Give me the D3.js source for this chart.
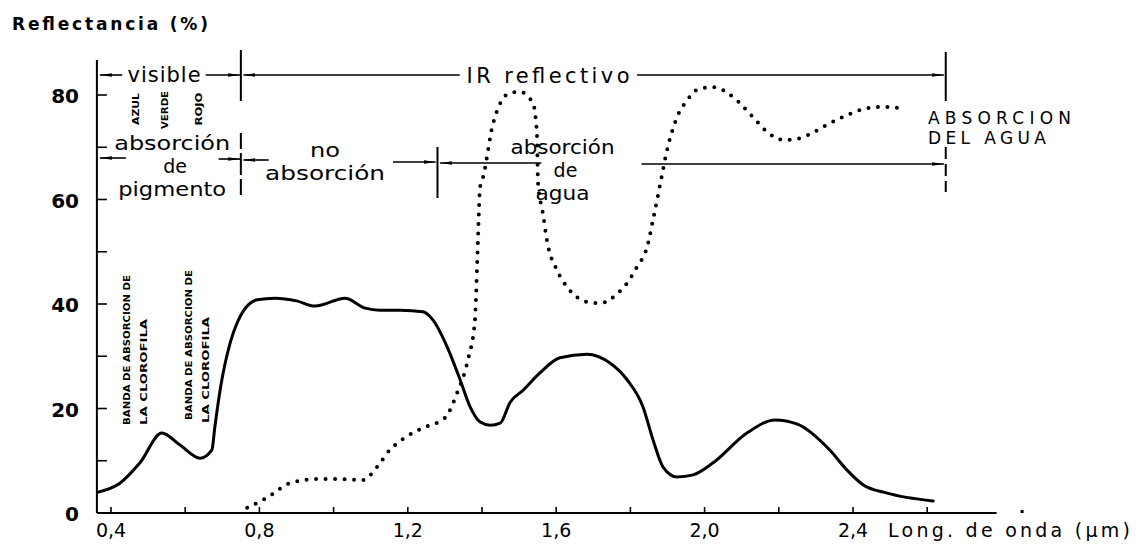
<!DOCTYPE html>
<html>
<head>
<meta charset="utf-8">
<script src="https://cdn.jsdelivr.net/npm/d3@7"></script>
<style>
  html, body { margin: 0; padding: 0; background: #fff; }
  svg { display: block; }
  text { font-family: "DejaVu Sans", "Liberation Sans", sans-serif; fill: #000; }
</style>
</head>
<body>
<svg id="chart" width="1140" height="549"></svg>
<script>
// Vegetation reflectance curve (solid): wavelength in µm, reflectance in %
const vegWavelength = [0.365, 0.424, 0.478, 0.537, 0.586, 0.640, 0.672, 0.680, 0.694, 0.721,
  0.740, 0.794, 0.842, 0.900, 0.950, 1.031, 1.085, 1.125, 1.180, 1.241, 1.268, 1.306, 1.341,
  1.368, 1.395, 1.422, 1.449, 1.476, 1.511, 1.556, 1.610, 1.683, 1.745, 1.791, 1.834, 1.861,
  1.888, 1.926, 1.969, 2.023, 2.114, 2.190, 2.250, 2.338, 2.384, 2.427, 2.492, 2.616];
const vegReflectance = [4.0, 5.7, 9.6, 15.3, 13.0, 10.5, 12.1, 16.5, 23.5, 32.5,
  36.4, 40.8, 41.1, 40.6, 39.6, 41.1, 39.2, 38.8, 38.8, 38.5, 36.9, 31.8, 25.5,
  20.3, 17.4, 16.8, 17.2, 21.2, 23.5, 26.8, 29.7, 30.4, 28.7, 25.5, 20.3, 14.0,
  8.8, 6.9, 7.3, 9.6, 15.3, 17.8, 17.0, 12.0, 8.2, 5.4, 3.8, 2.3];

// Dotted curve
const waterWavelength = [0.767, 0.820, 0.882, 0.955, 1.017, 1.079, 1.117, 1.152, 1.192, 1.241,
  1.300, 1.333, 1.362, 1.381, 1.387, 1.395, 1.403, 1.430, 1.475, 1.502, 1.537, 1.548, 1.551,
  1.564, 1.575, 1.602, 1.629, 1.656, 1.683, 1.710, 1.737, 1.753, 1.791, 1.818, 1.845, 1.861,
  1.880, 1.899, 1.926, 1.953, 1.980, 2.023, 2.077, 2.130, 2.176, 2.211, 2.249, 2.284, 2.330,
  2.373, 2.419, 2.465, 2.500, 2.535];
const waterReflectance = [1.0, 2.9, 5.7, 6.5, 6.5, 6.3, 8.8, 12.1, 14.4, 16.3,
  18.2, 23.0, 29.3, 36.9, 47.8, 62.4, 64.3, 74.6, 80.4, 80.6, 78.5, 72.7, 63.2,
  57.4, 52.2, 46.5, 43.3, 41.3, 40.4, 40.2, 40.4, 41.3, 44.0, 47.1, 50.9, 56.1,
  62.8, 69.5, 75.8, 79.0, 81.0, 81.5, 79.6, 75.8, 72.5, 71.4, 71.6, 72.5, 74.3,
  75.8, 77.1, 77.7, 77.7, 77.3];

// Axis ticks and labels
const yTickValues = [0, 20, 40, 60, 80];
const yMinorTickValues = [10, 30, 50, 70];
const xTickValues = [0.4, 0.6, 0.8, 1.0, 1.2, 1.4, 1.6, 1.8, 2.0, 2.2, 2.4, 2.6];
const xLabelValues = [0.4, 0.8, 1.2, 1.6, 2.0, 2.4];
const xTickLabels = ["0,4", "0,8", "1,2", "1,6", "2,0", "2,4"];

// Spectral region boundaries (µm)
const regionBounds = [0.75, 1.28, 2.65];

const svg = d3.select("#chart");
const x = d3.scaleLinear().domain([0.4, 2.4]).range([111, 853]);
const y = d3.scaleLinear().domain([0, 80]).range([513, 95]);

const axisX0 = x(0.362);   // vertical axis position
const axisXEnd = x(2.787);

// arrowheads
const defs = svg.append("defs");
defs.append("marker").attr("id", "arrowEnd")
  .attr("viewBox", "0 0 12 6").attr("refX", 12).attr("refY", 3)
  .attr("markerWidth", 12).attr("markerHeight", 6).attr("markerUnits", "userSpaceOnUse")
  .attr("orient", "auto")
  .append("path").attr("d", "M0,1.2 L12,3 L0,4.8 Z").attr("fill", "#000");
defs.append("marker").attr("id", "arrowStart")
  .attr("viewBox", "0 0 12 6").attr("refX", 0).attr("refY", 3)
  .attr("markerWidth", 12).attr("markerHeight", 6).attr("markerUnits", "userSpaceOnUse")
  .attr("orient", "auto")
  .append("path").attr("d", "M12,1.2 L0,3 L12,4.8 Z").attr("fill", "#000");

// ---- axes ----
const axes = svg.append("g").attr("stroke", "#000").attr("fill", "none");
axes.append("line").attr("x1", axisX0).attr("x2", axisX0).attr("y1", 60).attr("y2", y(0))
  .attr("stroke-width", 2);
axes.append("line").attr("x1", axisX0).attr("x2", axisXEnd).attr("y1", y(0)).attr("y2", y(0))
  .attr("stroke-width", 2);
axes.append("rect").attr("x", axisXEnd + 24).attr("y", y(0) - 3).attr("width", 3).attr("height", 3)
  .attr("fill", "#000").attr("stroke", "none");

// y ticks (pointing inward)
axes.selectAll(".ytick").data(yTickValues.concat(yMinorTickValues).filter(d => d > 0))
  .join("line")
  .attr("x1", axisX0).attr("x2", axisX0 + 10)
  .attr("y1", d => y(d)).attr("y2", d => y(d))
  .attr("stroke-width", 1.6);

// x ticks (pointing up)
axes.selectAll(".xtick").data(xTickValues).join("line")
  .attr("x1", d => x(d)).attr("x2", d => x(d))
  .attr("y1", y(0)).attr("y2", y(0) - 6)
  .attr("stroke-width", 1.6);

// y tick labels
svg.append("g").selectAll("text").data(yTickValues).join("text")
  .attr("x", 79).attr("y", d => y(d) + 8)
  .attr("text-anchor", "end")
  .attr("font-size", 20).attr("font-weight", "bold")
  .text(d => d);

// x tick labels
svg.append("g").selectAll("text").data(xLabelValues).join("text")
  .attr("x", d => x(d)).attr("y", 537)
  .attr("text-anchor", "middle")
  .attr("font-size", 19)
  .text((d, i) => xTickLabels[i]);

svg.append("text").attr("x", 888).attr("y", 537)
  .attr("font-size", 19).attr("textLength", 242).attr("lengthAdjust", "spacing")
  .text("Long. de onda (µm)");

svg.append("text").attr("x", 12).attr("y", 30)
  .attr("font-size", 17).attr("font-weight", "bold")
  .attr("textLength", 196).attr("lengthAdjust", "spacing")
  .text("Reflectancia (%)");

// ---- curves ----
const line = d3.line()
  .x(d => x(d[0])).y(d => y(d[1]))
  .curve(d3.curveMonotoneX);

svg.append("path")
  .datum(d3.zip(vegWavelength, vegReflectance))
  .attr("d", line)
  .attr("fill", "none").attr("stroke", "#000")
  .attr("stroke-width", 3).attr("stroke-linejoin", "round").attr("stroke-linecap", "round");

svg.append("path")
  .datum(d3.zip(waterWavelength, waterReflectance))
  .attr("d", line)
  .attr("fill", "none").attr("stroke", "#000")
  .attr("stroke-width", 4).attr("stroke-linecap", "round")
  .attr("stroke-dasharray", "0 9.5");

// ---- spectral region brackets ----
const ann = svg.append("g").attr("stroke", "#000").attr("fill", "none");

function arrow(l1, l2, yy, head) {
  const el = ann.append("line")
    .attr("x1", x(l1)).attr("x2", x(l2)).attr("y1", yy).attr("y2", yy)
    .attr("stroke-width", 1.6);
  if (head === "start") el.attr("marker-start", "url(#arrowStart)");
  if (head === "end") el.attr("marker-end", "url(#arrowEnd)");
}
function bar(l, y1, y2, dash) {
  const el = ann.append("line")
    .attr("x1", x(l)).attr("x2", x(l)).attr("y1", y1).attr("y2", y2)
    .attr("stroke-width", 2);
  if (dash) el.attr("stroke-dasharray", dash);
}

// boundaries
bar(regionBounds[0], 50, 101);
bar(regionBounds[0], 133, 196, "16 4 22 4");
bar(regionBounds[1], 147, 198);
bar(regionBounds[2], 52, 101);
bar(regionBounds[2], 147, 192, "12 5");

// top row: visible / IR reflectivo
const row1 = 75;
arrow(0.370, 0.430, row1, "start");
arrow(0.655, 0.748, row1, "end");
arrow(0.757, 1.340, row1, "start");
arrow(1.818, 2.645, row1, "end");

// second row: pigment / no absorption / water absorption
arrow(0.370, 0.440, 158, "start");
arrow(0.690, 0.748, 159, "end");
arrow(0.757, 0.825, 160, "start");
arrow(1.160, 1.275, 162, "end");
arrow(1.287, 1.560, 163, "start");
arrow(1.830, 2.645, 164, "end");

// region labels
const label = (txt, l, yy, size, len, adjust) => {
  const t = svg.append("text").attr("x", x(l)).attr("y", yy)
    .attr("text-anchor", "middle").attr("font-size", size).text(txt);
  if (len) t.attr("textLength", len).attr("lengthAdjust", adjust || "spacing");
  return t;
};
label("visible", 0.543, 82, 21, 73);
label("IR reflectivo", 1.578, 83, 21, 163);

label("absorción", 0.565, 150, 19, 116, "spacingAndGlyphs");
label("de", 0.573, 173, 19);
label("pigmento", 0.565, 196, 19, 108, "spacingAndGlyphs");

label("no", 0.977, 157, 19, 30, "spacingAndGlyphs");
label("absorción", 0.977, 180, 19, 120, "spacingAndGlyphs");

label("absorción", 1.617, 154, 19, 104, "spacingAndGlyphs");
label("de", 1.625, 177, 19);
label("agua", 1.617, 200, 19, 54, "spacingAndGlyphs");

svg.append("text").attr("x", 928).attr("y", 124)
  .attr("font-size", 17).attr("textLength", 143).attr("lengthAdjust", "spacing")
  .text("ABSORCION");
svg.append("text").attr("x", 928).attr("y", 144)
  .attr("font-size", 17).attr("textLength", 118).attr("lengthAdjust", "spacing")
  .text("DEL AGUA");

// colour band labels (vertical)
const vlabel = (txt, px, yMid, len, size) => {
  svg.append("text")
    .attr("transform", `translate(${px},${yMid}) rotate(-90)`)
    .attr("text-anchor", "middle").attr("font-size", size).attr("font-weight", "bold")
    .attr("textLength", len).attr("lengthAdjust", "spacingAndGlyphs")
    .text(txt);
};
vlabel("AZUL", 139, 109, 32, 8);
vlabel("VERDE", 168, 110, 38, 8);
vlabel("ROJO", 202, 109, 33, 8);

// chlorophyll absorption bands
vlabel("BANDA DE ABSORCION DE", 130, 350, 150, 9);
vlabel("LA CLOROFILA", 147, 372, 106, 9);
vlabel("BANDA DE ABSORCION DE", 192, 345, 150, 9);
vlabel("LA CLOROFILA", 209, 370, 106, 9);
</script>
</body>
</html>
